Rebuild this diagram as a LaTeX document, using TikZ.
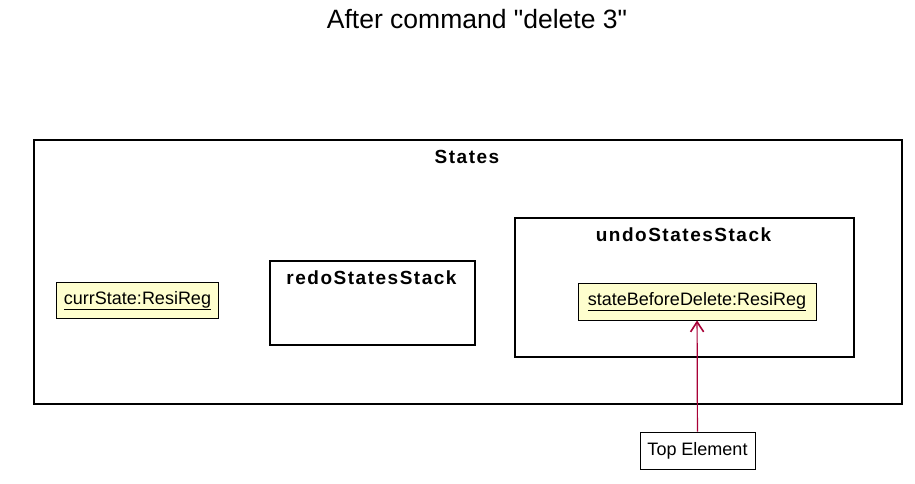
\documentclass[tikz,border=0pt]{standalone}
\usepackage{fontspec}
\setmainfont{Liberation Sans}
\usetikzlibrary{arrows.meta}
\definecolor{objfill}{HTML}{FEFECE}
\definecolor{linkred}{HTML}{A80036}
\tikzset{
frame/.style={
       rectangle,
       draw=black,
       line width=1.5pt,
       anchor=north west,
       inner sep=0pt,
       },
framelabel/.style={
       font=\fontsize{19}{21}\selectfont\bfseries\addfontfeature{LetterSpace=8},
       inner sep=0pt,
       },
object/.style={
       rectangle,
       draw=black,
       fill=objfill,
       line width=0.8pt,
       minimum height=36pt,
       inner sep=0pt,
       font=\fontsize{18}{20}\selectfont,
       },
note/.style={
       rectangle,
       draw=black,
       fill=white,
       line width=0.8pt,
       minimum height=37pt,
       inner sep=0pt,
       font=\fontsize{18}{20}\selectfont,
       },
pointer/.style={
       draw=linkred,
       line width=1.2pt,
       -{Straight Barb[length=10pt,width=13pt,line width=1.6pt]},
       }
}

\begin{document}
\begin{tikzpicture}[x=1pt, y=-1pt]
      \useasboundingbox (0,0) rectangle (915,483);

      \node [font=\fontsize{26.5}{30}\selectfont, inner sep=0pt] (title) at (477,19) {After command \textquotedbl delete 3\textquotedbl};

      % Frames
      \node [frame, minimum width=868pt, minimum height=264pt] (states) at (33,139) {};
      \node [framelabel] (statesLabel) at (467,157) {States};

      \node [frame, minimum width=205pt, minimum height=84pt] (redo) at (269,260) {};
      \node [framelabel] (redoLabel) at (371.5,278) {redoStatesStack};

      \node [frame, minimum width=339pt, minimum height=139pt] (undo) at (514,217) {};
      \node [framelabel] (undoLabel) at (683.5,235) {undoStatesStack};

      % Objects
      \node [object, minimum width=162pt] (currState) at (137.5,300.5) {\underline{currState:ResiReg}};
      \node [object, minimum width=238pt, minimum height=37pt] (stateBD) at (697,301.5) {\underline{stateBeforeDelete:ResiReg}};

      \node [note, minimum width=115pt] (top) at (697.5,450.5) {Top Element};

      % Draw arrow to the top element
      \draw [pointer] (top) -- (stateBD);
    \end{tikzpicture}
\end{document}
